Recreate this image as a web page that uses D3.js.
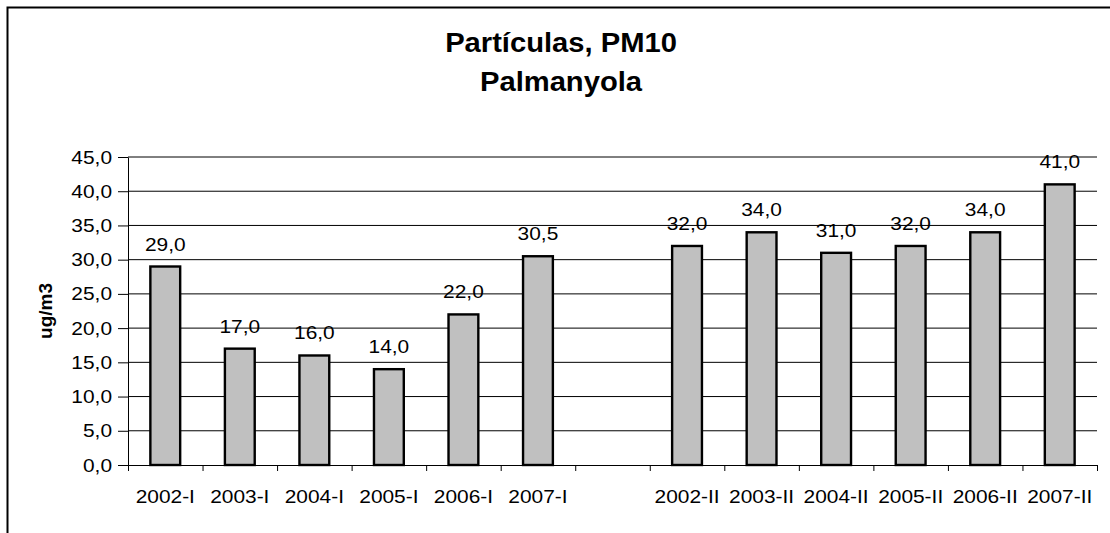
<!DOCTYPE html>
<html>
<head>
<meta charset="utf-8">
<script src="https://cdn.jsdelivr.net/npm/d3@7"></script>
<style>
body { margin: 0; background: #fff; }
svg { display: block; font-family: "Liberation Sans", Arial, sans-serif; }
</style>
</head>
<body>
<svg width="1110" height="533"></svg>
<script>
// data
var categories = ["2002-I", "2003-I", "2004-I", "2005-I", "2006-I", "2007-I", "",
                  "2002-II", "2003-II", "2004-II", "2005-II", "2006-II", "2007-II"];
var values = [29.0, 17.0, 16.0, 14.0, 22.0, 30.5, null,
              32.0, 34.0, 31.0, 32.0, 34.0, 41.0];
var yTicks = [0, 5, 10, 15, 20, 25, 30, 35, 40, 45];
var titleLines = ["Partículas, PM10", "Palmanyola"];
var yLabel = "ug/m3";

var plot = {left: 128, right: 1097, top: 157, bottom: 465};
var sx = 1.1; // text in the original is a bit wide
var fs = 19;

var fmt = function(v){ return d3.format(".1f")(v).replace(".", ","); };

var svg = d3.select("svg");

// outer frame (runs off right and bottom)
svg.append("rect")
    .attr("x", 7.5).attr("y", 7.5)
    .attr("width", 1200).attr("height", 600)
    .attr("fill", "none")
    .attr("stroke", "black")
    .attr("stroke-width", 2);

var xScale = d3.scaleBand().domain(categories)
    .range([plot.left, plot.right])
    .paddingInner(0.6).paddingOuter(0.3);
var yScale = d3.scaleLinear().domain([0, 45]).range([plot.bottom, plot.top]);
var xEdges = d3.scaleLinear().domain([0, categories.length]).range([plot.left, plot.right]);

// gridlines
svg.append("g")
    .selectAll("line")
    .data(yTicks.filter(function(t){ return t > 0; }))
    .enter()
    .append("line")
    .attr("x1", plot.left).attr("x2", plot.right)
    .attr("y1", function(t){ return yScale(t); })
    .attr("y2", function(t){ return yScale(t); })
    .attr("stroke", "black")
    .attr("stroke-width", 1);

// y axis
var yAxis = svg.append("g")
    .attr("transform", "translate(" + plot.left + ",0)")
    .call(d3.axisLeft(yScale).tickValues(yTicks).tickSize(10).tickSizeOuter(0).tickFormat(fmt));
yAxis.selectAll("path, line").attr("stroke", "black");
yAxis.selectAll("text")
    .attr("font-size", fs)
    .attr("font-family", "Liberation Sans, Arial, sans-serif")
    .attr("fill", "black")
    .attr("x", -16 / sx)
    .attr("transform", "scale(" + sx + ",1)");

// x axis with ticks between categories
var xAxis = svg.append("g")
    .attr("transform", "translate(0," + plot.bottom + ")")
    .call(d3.axisBottom(xEdges).tickValues(d3.range(categories.length + 1))
        .tickSize(6).tickSizeOuter(0).tickFormat(""));
xAxis.selectAll("path, line").attr("stroke", "black");

// bars
var barData = categories.map(function(c, i){ return {cat: c, value: values[i]}; })
    .filter(function(d){ return d.value != null; });

svg.append("g")
    .selectAll("rect")
    .data(barData)
    .enter()
    .append("rect")
    .attr("x", function(d){ return xScale(d.cat); })
    .attr("y", function(d){ return yScale(d.value); })
    .attr("width", xScale.bandwidth())
    .attr("height", function(d){ return yScale(0) - yScale(d.value); })
    .attr("fill", "#c0c0c0")
    .attr("stroke", "black")
    .attr("stroke-width", 2.4);

// value labels
svg.append("g")
    .selectAll("text")
    .data(barData)
    .enter()
    .append("text")
    .attr("transform", function(d){
        return "translate(" + (xScale(d.cat) + xScale.bandwidth() / 2) + "," + (yScale(d.value) - 16) + ") scale(" + sx + ",1)";
    })
    .attr("text-anchor", "middle")
    .attr("font-size", fs)
    .text(function(d){ return fmt(d.value); });

// category labels
svg.append("g")
    .selectAll("text")
    .data(categories.filter(function(c){ return c !== ""; }))
    .enter()
    .append("text")
    .attr("transform", function(c){
        return "translate(" + (xScale(c) + xScale.bandwidth() / 2) + ",503) scale(" + sx + ",1)";
    })
    .attr("text-anchor", "middle")
    .attr("font-size", fs)
    .text(function(c){ return c; });

// y axis title
svg.append("text")
    .attr("transform", "translate(52," + ((plot.top + plot.bottom) / 2) + ") rotate(-90)")
    .attr("text-anchor", "middle")
    .attr("font-size", 19)
    .attr("font-weight", "bold")
    .text(yLabel);

// chart title
svg.append("g")
    .selectAll("text")
    .data(titleLines)
    .enter()
    .append("text")
    .attr("transform", function(t, i){ return "translate(561," + (52 + i * 39) + ") scale(1.08,1)"; })
    .attr("text-anchor", "middle")
    .attr("font-size", 27)
    .attr("font-weight", "bold")
    .text(function(t){ return t; });
</script>
</body>
</html>
